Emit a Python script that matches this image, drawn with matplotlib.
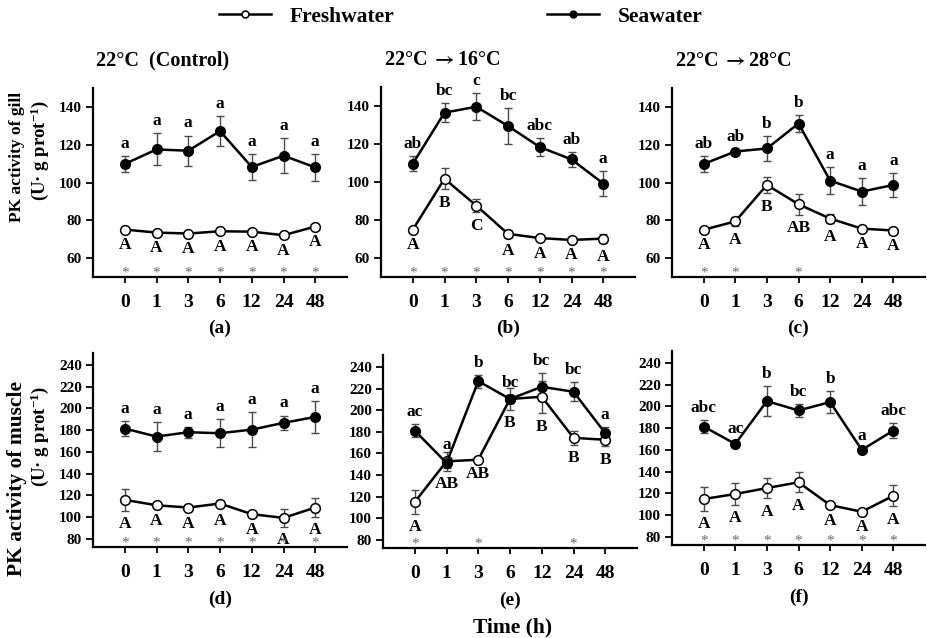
import numpy as np
import matplotlib
matplotlib.use('Agg')
import matplotlib.pyplot as plt
import matplotlib.transforms as mtransforms

plt.rcParams['font.family'] = ['Liberation Serif', 'DejaVu Serif']
plt.rcParams['font.weight'] = 'bold'
plt.rcParams['mathtext.fontset'] = 'custom'
plt.rcParams['mathtext.rm'] = 'Liberation Serif:bold'
plt.rcParams['mathtext.bf'] = 'Liberation Serif:bold'
plt.rcParams['mathtext.it'] = 'Liberation Serif:bold:italic'

## data ###################################################################

hours = ['0', '1', '3', '6', '12', '24', '48']

# gill
gill_ctrl_sea = [109.8, 117.5, 116.8, 127.2, 108.2, 114.2, 108.0]
gill_ctrl_sea_err = [4, 8.5, 8, 8, 7, 9.4, 7]
gill_ctrl_fresh = [75.1, 73.5, 73.0, 74.2, 74.0, 72.1, 76.7]
gill_ctrl_fresh_err = [1, 1, 1, 1, 1, 1, 1]

gill_cold_sea = [109.6, 136.5, 139.6, 129.5, 118.4, 111.9, 99.2]
gill_cold_sea_err = [4, 5, 7, 9.6, 4.5, 4, 6.5]
gill_cold_fresh = [74.9, 101.7, 87.6, 72.7, 70.5, 69.5, 70.2]
gill_cold_fresh_err = [1, 5.5, 3.5, 2, 1, 1, 2.5]

gill_warm_sea = [109.8, 116.4, 118.0, 131.2, 101.0, 95.2, 98.7]
gill_warm_sea_err = [4, 1.5, 6.7, 4.4, 7, 7.2, 6.5]
gill_warm_fresh = [75.0, 79.4, 98.7, 88.5, 80.9, 75.6, 74.6]
gill_warm_fresh_err = [1, 2.6, 4.4, 5.5, 2.5, 1, 1]

# muscle
mus_ctrl_sea = [181.5, 174.1, 178.1, 177.2, 180.5, 186.7, 192.2]
mus_ctrl_sea_err = [6.5, 13, 5, 12.9, 16, 6.7, 14.4]
mus_ctrl_fresh = [115.9, 110.9, 108.8, 112.5, 102.7, 99.3, 108.8]
mus_ctrl_fresh_err = [10, 2, 2.5, 3.4, 2.5, 8, 8.6]

mus_cold_sea = [181.1, 151.1, 226.8, 210.3, 221.6, 217.0, 178.7]
mus_cold_sea_err = [6, 5, 6, 4, 13, 8.6, 6]
mus_cold_fresh = [115.0, 152.6, 154.2, 210.3, 212.4, 174.4, 172.6]
mus_cold_fresh_err = [10.7, 8.6, 1, 10, 15, 6.4, 6]

mus_warm_sea = [181.5, 165.5, 204.9, 196.3, 204.0, 160.0, 177.8]
mus_warm_sea_err = [6, 2.5, 13.8, 6, 10, 2, 6.8]
mus_warm_fresh = [114.8, 119.4, 124.9, 130.2, 109.2, 103.1, 117.8]
mus_warm_fresh_err = [10.7, 9.8, 9.2, 9.2, 2, 2, 9.8]

# significance letters
let_a_sea = ['a', 'a', 'a', 'a', 'a', 'a', 'a']
let_a_fresh = ['A', 'A', 'A', 'A', 'A', 'A', 'A']
let_b_sea = ['ab', 'bc', 'c', 'bc', 'abc', 'ab', 'a']
let_b_fresh = ['A', 'B', 'C', 'A', 'A', 'A', 'A']
let_c_sea = ['ab', 'ab', 'b', 'b', 'a', 'a', 'a']
let_c_fresh = ['A', 'A', 'B', 'AB', 'A', 'A', 'A']
let_d_sea = ['a', 'a', 'a', 'a', 'a', 'a', 'a']
let_d_fresh = ['A', 'A', 'A', 'A', 'A', 'A', 'A']
let_e_sea = ['ac', 'a', 'b', 'bc', 'bc', 'bc', 'a']
let_e_fresh = ['A', 'AB', 'AB', 'B', 'B', 'B', 'B']
let_f_sea = ['abc', 'ac', 'b', 'bc', 'b', 'a', 'abc']
let_f_fresh = ['A', 'A', 'A', 'A', 'A', 'A', 'A']

# asterisks (seawater vs freshwater)
star_a = [1, 1, 1, 1, 1, 1, 1]
star_b = [1, 1, 1, 1, 1, 1, 1]
star_c = [1, 1, 0, 1, 0, 0, 0]
star_d = [1, 1, 1, 1, 1, 1, 1]
star_e = [1, 0, 1, 0, 0, 1, 0]
star_f = [1, 1, 1, 1, 1, 1, 1]

titles = ['22°C  (Control)', r'22°C $\rightarrow$16°C', r'22°C $\rightarrow$28°C']
panel_tags = ['(a)', '(b)', '(c)', '(d)', '(e)', '(f)']

## figure #################################################################

W, H = 927, 638
fig = plt.figure(figsize=(W / 100, H / 100), dpi=100)

def rect(l, r, t, b):
    return [l / W, 1 - b / H, (r - l) / W, (b - t) / H]

rects = [rect(93, 347, 88, 277), rect(381, 635, 87, 277), rect(672, 925, 88, 277),
         rect(93, 347, 353, 547), rect(383, 637, 355, 548), rect(672, 925, 351, 545)]

panels = [
    (gill_ctrl_sea, gill_ctrl_sea_err, gill_ctrl_fresh, gill_ctrl_fresh_err, let_a_sea, let_a_fresh, star_a),
    (gill_cold_sea, gill_cold_sea_err, gill_cold_fresh, gill_cold_fresh_err, let_b_sea, let_b_fresh, star_b),
    (gill_warm_sea, gill_warm_sea_err, gill_warm_fresh, gill_warm_fresh_err, let_c_sea, let_c_fresh, star_c),
    (mus_ctrl_sea, mus_ctrl_sea_err, mus_ctrl_fresh, mus_ctrl_fresh_err, let_d_sea, let_d_fresh, star_d),
    (mus_cold_sea, mus_cold_sea_err, mus_cold_fresh, mus_cold_fresh_err, let_e_sea, let_e_fresh, star_e),
    (mus_warm_sea, mus_warm_sea_err, mus_warm_fresh, mus_warm_fresh_err, let_f_sea, let_f_fresh, star_f),
]

x = np.arange(len(hours))
errc = '#4a4a4a'
handles = None

for i, (sea, sea_e, fr, fr_e, lsea, lfr, stars) in enumerate(panels):
    ax = fig.add_axes(rects[i])
    ax.errorbar(x, sea, yerr=sea_e, fmt='none', ecolor=errc, elinewidth=1, capsize=3, capthick=1, zorder=2)
    ax.errorbar(x, fr, yerr=fr_e, fmt='none', ecolor=errc, elinewidth=1, capsize=3, capthick=1, zorder=2)
    hf, = ax.plot(x, fr, '-o', color='black', lw=1.8, ms=7, mfc='white', mec='black', mew=1.1, zorder=3)
    hs, = ax.plot(x, sea, '-o', color='black', lw=1.8, ms=7, mfc='black', mec='black', zorder=4)
    if handles is None:
        handles = (hf, hs)

    for xi, yv, ev, t in zip(x, sea, sea_e, lsea):
        ax.annotate(t, (xi, yv + ev), xytext=(0, 3), textcoords='offset points',
                    ha='center', va='bottom', fontsize=12.5)
    for xi, yv, ev, t in zip(x, fr, fr_e, lfr):
        ax.annotate(t, (xi, yv - ev), xytext=(0, -4), textcoords='offset points',
                    ha='center', va='top', fontsize=12.5)

    trans = mtransforms.blended_transform_factory(ax.transData, ax.transAxes)
    for xi, s in zip(x, stars):
        if s:
            ax.annotate('*', (xi, 0), xycoords=trans, xytext=(0, 0), textcoords='offset points',
                        ha='center', va='baseline', fontsize=11, color='#666666', fontweight='normal')

    ax.set_xlim(-1, 7)
    if i < 3:
        ax.set_ylim(50, 150)
        ax.set_yticks([60, 80, 100, 120, 140])
        ax.annotate(titles[i], (0, 1), xycoords='axes fraction', xytext=(2, 16),
                    textcoords='offset points', ha='left', va='baseline', fontsize=14.5,
                    math_fontfamily='stix')
        tagoff = -37
    else:
        ax.set_ylim(72.5, 251)
        ax.set_yticks([80, 100, 120, 140, 160, 180, 200, 220, 240])
        tagoff = -38
    ax.annotate(panel_tags[i], (3, 0), xycoords=trans, xytext=(0, tagoff),
                textcoords='offset points', ha='center', va='center', fontsize=14)

    ax.set_xticks(x)
    ax.set_xticklabels(hours)
    for sp in ['top', 'right']:
        ax.spines[sp].set_visible(False)
    for sp in ['left', 'bottom']:
        ax.spines[sp].set_linewidth(1.6)
    ax.tick_params(axis='x', length=4, width=1.3, pad=8, labelsize=14)
    ax.tick_params(axis='y', length=5, width=1.3, pad=3, labelsize=11)

# y labels
fig.text(17 / W, 1 - 157 / H, 'PK activity of gill', rotation=90, ha='center', va='center', fontsize=12.5)
fig.text(40 / W, 1 - 150 / H, '(U\u00b7 g prot$^{-1}$)', rotation=90, ha='center', va='center', fontsize=13.5)
fig.text(17 / W, 1 - 478 / H, 'PK activity of muscle', rotation=90, ha='center', va='center', fontsize=15.5)
fig.text(40 / W, 1 - 436 / H, '(U\u00b7 g prot$^{-1}$)', rotation=90, ha='center', va='center', fontsize=13.5)

fig.text(513 / W, 1 - 627 / H, 'Time (h)', ha='center', va='center', fontsize=15.5)

# legend
for h, name, x0 in [(handles[0], 'Freshwater', 219), (handles[1], 'Seawater', 547)]:
    leg = fig.legend([h], [name], loc='center left', bbox_to_anchor=(x0 / W, 1 - 17 / H),
                     frameon=False, borderpad=0, borderaxespad=0, handlelength=2.4,
                     handletextpad=0.9, fontsize=15.5)
    for lh in leg.legend_handles:
        lh.set_markersize(5)

fig.savefig('out.png', dpi=100)
